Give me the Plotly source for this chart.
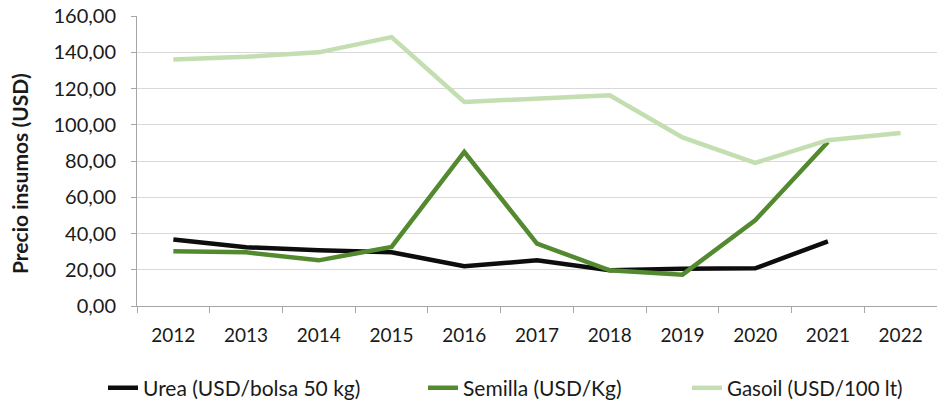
import plotly.graph_objects as go

years = ["2012", "2013", "2014", "2015", "2016", "2017", "2018", "2019", "2020", "2021", "2022"]
urea = [36.7, 32.4, 30.8, 29.7, 22.0, 25.2, 19.7, 20.6, 20.8, 35.7, None]
semilla = [30.2, 29.6, 25.2, 32.6, 85.0, 34.4, 19.7, 17.3, 47.3, 90.5, None]
gasoil = [136.0, 137.5, 140.0, 148.4, 112.6, 114.5, 116.3, 93.0, 79.0, 91.5, 95.5]

names = ["Urea (USD/bolsa 50 kg)", "Semilla (USD/Kg)", "Gasoil (USD/100 lt)"]
colors = ["#0d0d0d", "#548a2f", "#c3deb0"]
legend_ids = ["legend", "legend2", "legend3"]

W, H = 937, 404
ml, mr, mt, mb = 137, 0, 16, 404 - 306
pw = W - ml - mr
ph = H - mt - mb

fig = go.Figure()
for name, vals, col, lg in zip(names, [urea, semilla, gasoil], colors, legend_ids):
    fig.add_trace(go.Scatter(x=years, y=vals, mode="lines", name=name, legend=lg,
                             line=dict(color=col, width=4.5), connectgaps=False))

font = "Lato, 'Open Sans', sans-serif"
text_starts = [143, 463, 727]  # px where legend texts begin
leg_sizes = [21, 21, 20.5]
leg_y = 1 - 388 / H

def leg(xpx, size):
    return dict(xref="container", yref="container", x=(xpx - 40) / W, xanchor="left",
                y=leg_y, yanchor="middle", font=dict(size=size, color="#1a1a1a"),
                bgcolor="rgba(0,0,0,0)", borderwidth=0, orientation="h")

fig.update_layout(
    width=W, height=H,
    margin=dict(l=ml, r=mr, t=mt, b=mb),
    plot_bgcolor="white", paper_bgcolor="white",
    separators=",.",
    font=dict(family=font, size=19, color="#1a1a1a"),
    showlegend=True,
    legend=leg(text_starts[0], leg_sizes[0]),
    legend2=leg(text_starts[1], leg_sizes[1]),
    legend3=leg(text_starts[2], leg_sizes[2]),
    xaxis=dict(type="category", range=[-0.5, 10.5], automargin=False,
               showgrid=False, showline=True, linecolor="#a6a6a6",
               linewidth=1, ticks="outside", tickcolor="#a6a6a6", ticklen=6,
               tickson="boundaries", ticklabelstandoff=12,
               tickfont=dict(size=19, color="#1a1a1a")),
    yaxis=dict(range=[0, 160.05], tickvals=[0, 20, 40, 60, 80, 100, 120, 140, 160],
               tickformat=".2f", showgrid=True, automargin=False,
               ticklabeloverflow="allow",
               gridcolor="#d9d9d9", gridwidth=1, showline=True, linecolor="#a6a6a6",
               linewidth=1, ticks="outside", tickcolor="#a6a6a6", ticklen=5,
               ticklabelstandoff=11, zeroline=False,
               tickfont=dict(size=20, color="#1a1a1a")),
    annotations=[dict(text="<b>Precio insumos (USD)</b>", xref="paper", yref="paper",
                      x=(19 - ml) / pw, y=(306 - 174) / ph,
                      xanchor="center", yanchor="middle",
                      textangle=-90, showarrow=False,
                      font=dict(size=21, color="#1a1a1a", family=font))],
)
fig.write_html("out.html", config={"displayModeBar": False},
               post_script="document.body.style.margin='0';document.body.style.overflow='hidden';")
